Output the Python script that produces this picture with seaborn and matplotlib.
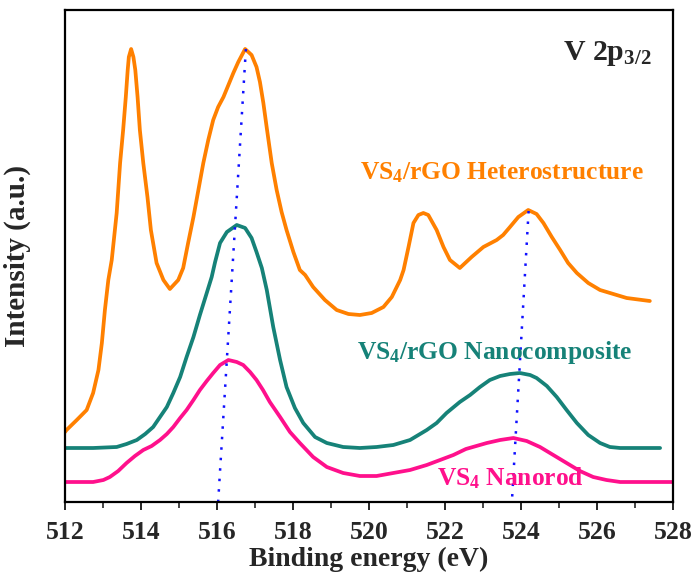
import numpy as np
import pandas as pd
import matplotlib
matplotlib.use("Agg")
import matplotlib.pyplot as plt
import seaborn as sns
from matplotlib.ticker import MultipleLocator

# ---- data (binding energy in eV, intensity in a.u.) ----
hetero_x = [512.00, 512.04, 512.31, 512.57, 512.74, 512.88, 512.97, 513.05, 513.14, 513.23,
            513.36, 513.45, 513.53, 513.60, 513.65, 513.68, 513.74, 513.80, 513.85, 513.91,
            513.97, 514.06, 514.17, 514.26, 514.41, 514.59, 514.76, 514.98, 515.11, 515.24,
            515.38, 515.51, 515.64, 515.77, 515.90, 516.03, 516.17, 516.30, 516.43, 516.56,
            516.74, 516.91, 517.04, 517.13, 517.22, 517.31, 517.44, 517.57, 517.70, 517.83,
            518.01, 518.18, 518.32, 518.53, 518.84, 519.15, 519.46, 519.76, 520.07, 520.38,
            520.60, 520.82, 520.91, 521.04, 521.17, 521.30, 521.43, 521.56, 521.78, 521.96,
            522.13, 522.39, 522.70, 523.01, 523.36, 523.53, 523.71, 523.93, 524.19, 524.41,
            524.59, 524.81, 525.03, 525.24, 525.47, 525.77, 526.08, 526.43, 526.78, 527.39]
hetero_y = [70, 72, 82, 92, 109, 132, 159, 192, 222, 242,
            289, 339, 372, 405, 432, 445, 453, 445, 432, 405,
            372, 339, 305, 272, 239, 222, 213, 222, 234, 259,
            285, 312, 339, 362, 382, 395, 405, 417, 429, 440,
            453, 447, 435, 420, 399, 374, 339, 312, 290, 272,
            250, 232, 227, 215, 202, 192, 188, 187, 189, 195,
            205, 222, 232, 255, 279, 287, 289, 287, 272, 255,
            242, 234, 245, 255, 262, 267, 275, 285, 292, 288,
            279, 265, 252, 239, 229, 219, 212, 208, 204, 201]

nanocomp_x = [512.00, 512.74, 513.36, 513.62, 513.89, 514.11, 514.32, 514.50, 514.68, 514.85,
              515.03, 515.20, 515.38, 515.55, 515.73, 515.86, 515.95, 516.08, 516.26, 516.52,
              516.74, 516.91, 517.04, 517.18, 517.31, 517.48, 517.66, 517.83, 518.05, 518.27,
              518.58, 518.89, 519.32, 519.76, 520.20, 520.64, 521.08, 521.52, 521.78, 522.04,
              522.39, 522.66, 522.92, 523.18, 523.45, 523.71, 523.97, 524.24, 524.41, 524.68,
              524.94, 525.20, 525.47, 525.77, 526.08, 526.34, 526.61, 527.66]
nanocomp_y = [54, 54, 55, 58, 62, 68, 75, 85, 95, 109,
              125, 145, 165, 187, 209, 225, 240, 259, 270, 277,
              274, 264, 250, 234, 212, 175, 142, 115, 94, 79,
              65, 59, 55, 54, 55, 57, 62, 72, 79, 89,
              100, 107, 115, 122, 126, 128, 129, 127, 124, 116,
              105, 92, 79, 67, 59, 55, 54, 54]

nanorod_x = [512.00, 512.74, 513.01, 513.18, 513.40, 513.62, 513.84, 514.06, 514.28, 514.50,
             514.68, 514.85, 515.03, 515.20, 515.38, 515.55, 515.73, 515.90, 516.08, 516.30,
             516.52, 516.69, 516.87, 517.04, 517.21, 517.39, 517.66, 517.92, 518.18, 518.53,
             518.89, 519.32, 519.76, 520.20, 520.64, 521.08, 521.52, 521.87, 522.22, 522.55,
             523.10, 523.45, 523.80, 524.15, 524.50, 524.85, 525.20, 525.55, 525.90, 526.25,
             526.61, 528.00]
nanorod_y = [20, 20, 22, 25, 31, 39, 46, 52, 56, 62,
             68, 75, 84, 92, 102, 112, 121, 129, 137, 142,
             140, 137, 130, 122, 112, 100, 85, 70, 59, 45,
             35, 29, 26, 26, 29, 32, 37, 42, 47, 53,
             59, 62, 64, 61, 55, 47, 39, 31, 25, 22,
             20, 20]

# dotted guide lines (peak shift): top and bottom points
guide1_x = [516.76, 516.03]
guide1_y = [453, 0]
guide2_x = [524.20, 523.76]
guide2_y = [291, 0]

series_names = ["VS4/rGO Heterostructure", "VS4/rGO Nanocomposite", "VS4 Nanorod"]
series_colors = ["#FF8000", "#168278", "#FF108C"]
xticks = [512, 514, 516, 518, 520, 522, 524, 526, 528]

df = pd.concat([
    pd.DataFrame({"x": hetero_x, "y": hetero_y, "s": series_names[0]}),
    pd.DataFrame({"x": nanocomp_x, "y": nanocomp_y, "s": series_names[1]}),
    pd.DataFrame({"x": nanorod_x, "y": nanorod_y, "s": series_names[2]}),
], ignore_index=True)

sns.set_style("ticks")
plt.rcParams["font.family"] = ["Liberation Serif", "DejaVu Serif"]
plt.rcParams["font.weight"] = "bold"
plt.rcParams["mathtext.fontset"] = "custom"
plt.rcParams["mathtext.rm"] = "Liberation Serif:bold"
plt.rcParams["mathtext.bf"] = "Liberation Serif:bold"
plt.rcParams["mathtext.it"] = "Liberation Serif:bold"

fig = plt.figure(figsize=(6.95, 5.84), dpi=100)
ax = fig.add_axes([65 / 695, 1 - 502 / 584, (673 - 65) / 695, (502 - 10) / 584])

sns.lineplot(data=df, x="x", y="y", hue="s", palette=dict(zip(series_names, series_colors)),
             estimator=None, sort=False, linewidth=2.7, legend=False, ax=ax)
for ln in ax.lines:
    ln.set_solid_joinstyle("round")
    ln.set_solid_capstyle("round")

sns.lineplot(x=guide1_x, y=guide1_y, color="#1010FF", linewidth=1.8, ax=ax,
             estimator=None, sort=False)
sns.lineplot(x=guide2_x, y=guide2_y, color="#1010FF", linewidth=1.8, ax=ax,
             estimator=None, sort=False)
for ln in ax.lines[-2:]:
    ln.set_linestyle((0, (1, 3.2)))

ax.set_xlim(512, 528)
ax.set_ylim(0, 492)
ax.set_xticks(xticks)
ax.set_xticklabels([str(t) for t in xticks])
ax.xaxis.set_minor_locator(MultipleLocator(1))
ax.set_yticks([])
for sp in ax.spines.values():
    sp.set_linewidth(1.6)
    sp.set_color("black")
ax.tick_params(axis="x", which="major", length=6, width=1.4, direction="out",
               labelsize=18.5, pad=8)
ax.tick_params(axis="x", which="minor", length=4, width=1.2, direction="out")
for lab in ax.get_xticklabels():
    lab.set_fontweight("bold")

ax.set_xlabel("Binding energy (eV)", fontsize=20, fontweight="bold", labelpad=2)
ax.set_ylabel("Intensity (a.u.)", fontsize=21, fontweight="bold")
ax.yaxis.set_label_coords(-0.056, 0.5)

ax.text(525.1, 449, r"V 2p$_{3/2}$", fontsize=21.5, fontweight="bold", ha="left", va="center")
ax.text(519.76, 329, r"VS$_4$/rGO Heterostructure", fontsize=18.4, fontweight="bold",
        color=series_colors[0], ha="left", va="center")
ax.text(519.68, 149, r"VS$_4$/rGO Nanocomposite", fontsize=18.4, fontweight="bold",
        color=series_colors[1], ha="left", va="center")
ax.text(521.79, 24, r"VS$_4$ Nanorod", fontsize=18.4, fontweight="bold",
        color=series_colors[2], ha="left", va="center")

fig.savefig("out.png", dpi=100, facecolor="white")
